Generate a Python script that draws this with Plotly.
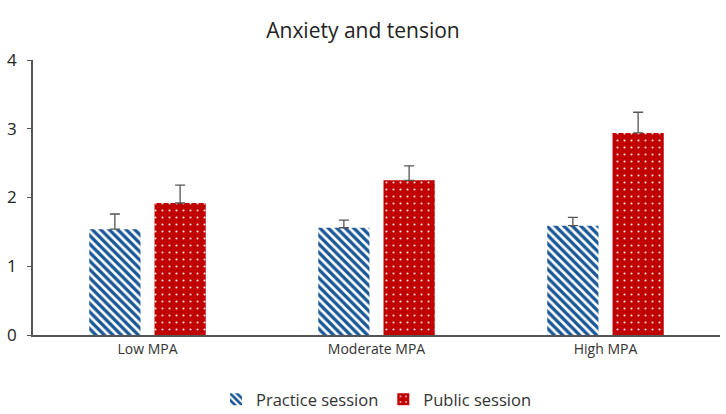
import plotly.graph_objects as go

categories = ["Low MPA", "Moderate MPA", "High MPA"]
practice = [1.54, 1.56, 1.59]
practice_err = [0.22, 0.11, 0.12]
public = [1.92, 2.25, 2.94]
public_err = [0.26, 0.21, 0.30]

fig = go.Figure()
fig.add_trace(go.Bar(
    x=categories, y=practice, name="Practice session",
    marker=dict(color="white", line=dict(width=0),
                pattern=dict(shape="\\", fgcolor="#1a5796", bgcolor="white", size=6,
                             solidity=0.55, fgopacity=1)),
    error_y=dict(type="data", array=practice_err, arrayminus=[0, 0, 0], symmetric=False,
                 color="#555555", thickness=1.3, width=5),
))
fig.add_trace(go.Bar(
    x=categories, y=public, name="Public session",
    marker=dict(color="#c00000", line=dict(width=0),
                pattern=dict(shape=".", fgcolor="#ffe8e8", bgcolor="#c00000", size=7,
                             solidity=0.07, fgopacity=1)),
    error_y=dict(type="data", array=public_err, arrayminus=[0, 0, 0], symmetric=False,
                 color="#555555", thickness=1.3, width=5),
))

fig.update_layout(
    width=726, height=414,
    paper_bgcolor="white", plot_bgcolor="white",
    font=dict(family="Open Sans", size=14, color="#333333"),
    title=dict(text="Anxiety and tension", x=0.5, xanchor="center", y=0.927, yanchor="middle",
               font=dict(size=21, color="#222222")),
    margin=dict(l=33, r=6, t=60, b=79),
    barmode="group", bargap=0.43, bargroupgap=0.215,
    showlegend=True,
    legend=dict(orientation="h", x=0.5, xanchor="center", yref="container", y=0.035,
                yanchor="middle", font=dict(size=16.5, color="#333333"), itemwidth=30),
    xaxis=dict(showline=True, linecolor="#555555", linewidth=1.5, ticks="",
               tickfont=dict(size=14, color="#333333"), automargin=False),
    yaxis=dict(range=[0, 4], dtick=1, showgrid=False, showline=True, linecolor="#555555",
               linewidth=1.5, ticks="outside", ticklen=4, tickcolor="#555555",
               ticklabelstandoff=7,
               tickfont=dict(size=17, color="#222222"), zeroline=False, automargin=False),
)

fig.write_html("out.html", config={"displayModeBar": False},
               post_script="document.body.style.margin='0';")
